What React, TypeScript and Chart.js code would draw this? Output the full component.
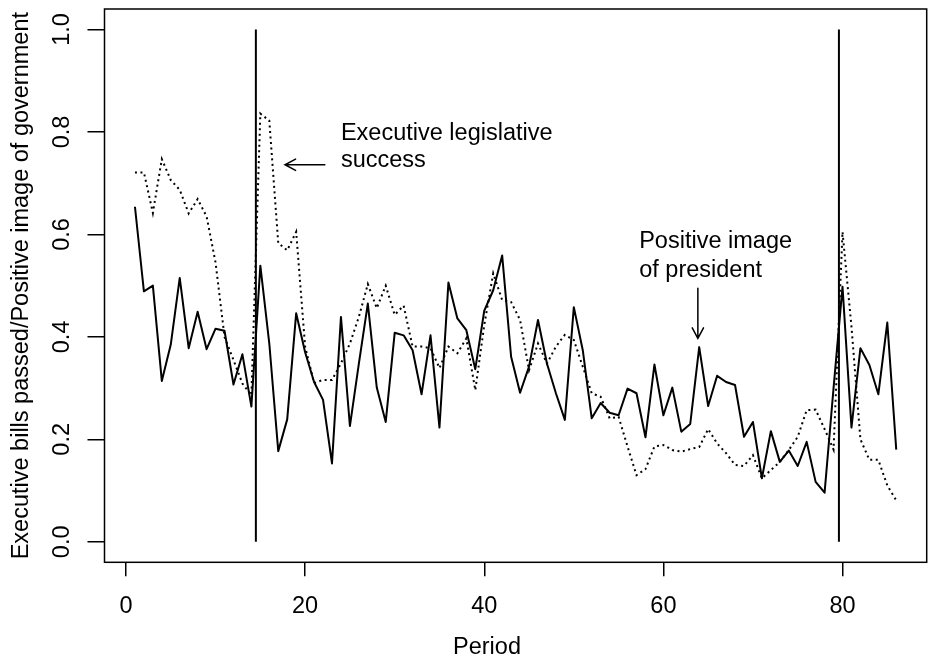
import React, { useEffect, useRef } from "react";
import { Chart, registerables } from "chart.js";

Chart.register(...registerables);

const periods = [
  1, 2, 3, 4, 5, 6, 7, 8, 9, 10, 11, 12, 13, 14, 15, 16, 17, 18, 19, 20,
  21, 22, 23, 24, 25, 26, 27, 28, 29, 30, 31, 32, 33, 34, 35, 36, 37, 38, 39, 40,
  41, 42, 43, 44, 45, 46, 47, 48, 49, 50, 51, 52, 53, 54, 55, 56, 57, 58, 59, 60,
  61, 62, 63, 64, 65, 66, 67, 68, 69, 70, 71, 72, 73, 74, 75, 76, 77, 78, 79, 80,
  81, 82, 83, 84, 85, 86,
];

// Solid line: positive image of president
const presidentImage = [
  0.654, 0.489, 0.5, 0.314, 0.385, 0.515, 0.378, 0.449, 0.376, 0.416,
  0.412, 0.307, 0.366, 0.264, 0.539, 0.387, 0.177, 0.239, 0.446, 0.37,
  0.312, 0.277, 0.153, 0.439, 0.226, 0.348, 0.465, 0.301, 0.234, 0.408,
  0.403, 0.374, 0.288, 0.403, 0.223, 0.506, 0.436, 0.413, 0.337, 0.451,
  0.491, 0.559, 0.361, 0.291, 0.342, 0.433, 0.348, 0.29, 0.238, 0.458,
  0.374, 0.241, 0.271, 0.252, 0.247, 0.299, 0.29, 0.204, 0.346, 0.247,
  0.301, 0.215, 0.23, 0.38, 0.265, 0.324, 0.312, 0.306, 0.205, 0.234,
  0.124, 0.216, 0.156, 0.178, 0.148, 0.195, 0.117, 0.096, 0.3, 0.498,
  0.223, 0.378, 0.345, 0.288, 0.428, 0.18,
];

// Dotted line: executive legislative success
const legislativeSuccess = [
  0.721, 0.721, 0.642, 0.747, 0.706, 0.687, 0.641, 0.669, 0.635, 0.545,
  0.4, 0.355, 0.309, 0.286, 0.836, 0.822, 0.583, 0.569, 0.605, 0.381,
  0.31, 0.316, 0.316, 0.348, 0.387, 0.439, 0.503, 0.456, 0.5, 0.443,
  0.461, 0.381, 0.381, 0.378, 0.339, 0.381, 0.368, 0.397, 0.296, 0.423,
  0.524, 0.472, 0.468, 0.433, 0.335, 0.387, 0.348, 0.381, 0.404, 0.394,
  0.342, 0.29, 0.283, 0.241, 0.244, 0.186, 0.13, 0.142, 0.186, 0.189,
  0.179, 0.176, 0.181, 0.185, 0.22, 0.192, 0.173, 0.15, 0.148, 0.169,
  0.124, 0.14, 0.156, 0.179, 0.205, 0.257, 0.258, 0.22, 0.18, 0.605,
  0.42, 0.2, 0.16, 0.16, 0.11, 0.081,
];

const breakPeriods = [14.5, 79.6];
const xTickValues = [0, 20, 40, 60, 80];
const yTickValues = [0, 0.2, 0.4, 0.6, 0.8, 1.0];

const xTitle = "Period";
const yTitle = "Executive bills passed/Positive image of government";

const noteLines = [
  { text: "Executive legislative", x: 24.0, y: 0.784 },
  { text: "success", x: 24.0, y: 0.7316 },
  { text: "Positive image", x: 57.3, y: 0.5728 },
  { text: "of president", x: 57.3, y: 0.5174 },
];

const noteArrows = [
  { x0: 22.2, y0: 0.736, x1: 17.75, y1: 0.736 },
  { x0: 63.85, y0: 0.495, x1: 63.85, y1: 0.397 },
];

const FONT = "'Liberation Sans', Arial, Helvetica, sans-serif";
const FS = 23.5;

const overlayPlugin = {
  id: "rOverlay",
  afterDraw(chart: any) {
    const { ctx, chartArea } = chart;
    const xs = chart.scales.x;
    const ys = chart.scales.y;
    ctx.save();
    // box
    ctx.strokeStyle = "#000";
    ctx.lineWidth = 1.5;
    ctx.strokeRect(
      chartArea.left,
      chartArea.top,
      chartArea.right - chartArea.left,
      chartArea.bottom - chartArea.top
    );
    ctx.fillStyle = "#000";
    // y tick labels (rotated, parallel to axis)
    ctx.font = `${FS}px ${FONT}`;
    ctx.textAlign = "center";
    ctx.textBaseline = "alphabetic";
    yTickValues.forEach((v) => {
      const py = ys.getPixelForValue(v);
      ctx.save();
      ctx.translate(68.5, py);
      ctx.rotate(-Math.PI / 2);
      ctx.fillText(v.toFixed(1), 0, 0);
      ctx.restore();
    });
    // y title
    ctx.save();
    ctx.translate(28, (chartArea.top + chartArea.bottom) / 2);
    ctx.rotate(-Math.PI / 2);
    ctx.fillText(yTitle, 0, 0);
    ctx.restore();
    // x title
    ctx.fillText(xTitle, 487, 654);
    // notes
    ctx.font = `${FS}px ${FONT}`;
    ctx.textAlign = "left";
    noteLines.forEach((n) => {
      ctx.fillText(n.text, xs.getPixelForValue(n.x), ys.getPixelForValue(n.y));
    });
    // arrows
    ctx.lineWidth = 1.5;
    ctx.lineCap = "round";
    noteArrows.forEach((a) => {
      const x0 = xs.getPixelForValue(a.x0);
      const y0 = ys.getPixelForValue(a.y0);
      const x1 = xs.getPixelForValue(a.x1);
      const y1 = ys.getPixelForValue(a.y1);
      ctx.beginPath();
      ctx.moveTo(x0, y0);
      ctx.lineTo(x1, y1);
      const ang = Math.atan2(y1 - y0, x1 - x0);
      const len = 12;
      const spread = (28 * Math.PI) / 180;
      ctx.moveTo(x1 - len * Math.cos(ang - spread), y1 - len * Math.sin(ang - spread));
      ctx.lineTo(x1, y1);
      ctx.lineTo(x1 - len * Math.cos(ang + spread), y1 - len * Math.sin(ang + spread));
      ctx.stroke();
    });
    ctx.restore();
  },
};

export default function App() {
  const ref = useRef<HTMLCanvasElement | null>(null);
  useEffect(() => {
    document.body.style.margin = "0";
    const canvas = ref.current;
    if (!canvas) return;
    const solid = periods.map((p, i) => ({ x: p, y: presidentImage[i] }));
    const dotted = periods.map((p, i) => ({ x: p, y: legislativeSuccess[i] }));
    const breaks = breakPeriods.map((b) => ({
      data: [
        { x: b, y: 0 },
        { x: b, y: 1 },
      ],
      borderColor: "#000",
      borderWidth: 2,
      pointRadius: 0,
      tension: 0,
    }));
    const chart = new Chart(canvas, {
      type: "line",
      data: {
        datasets: [
          {
            data: solid,
            borderColor: "#000",
            borderWidth: 2,
            pointRadius: 0,
            tension: 0,
            borderJoinStyle: "round",
          } as any,
          {
            data: dotted,
            borderColor: "#000",
            borderWidth: 2,
            borderDash: [2, 3.5],
            pointRadius: 0,
            tension: 0,
          } as any,
          ...(breaks as any[]),
        ],
      },
      options: {
        animation: false,
        responsive: false,
        maintainAspectRatio: false,
        layout: { padding: { top: 9, right: 4.3, left: 0, bottom: 0 } },
        plugins: { legend: { display: false }, tooltip: { enabled: false } },
        scales: {
          x: {
            type: "linear",
            min: -2.4,
            max: 89.4,
            afterBuildTicks: (s: any) => {
              s.ticks = xTickValues.map((v) => ({ value: v }));
            },
            afterFit: (s: any) => {
              s.height = 96.7;
            },
            grid: {
              drawOnChartArea: false,
              drawTicks: true,
              tickLength: 14,
              color: "#000",
              lineWidth: 1.5,
            },
            border: { display: false },
            ticks: {
              color: "#000",
              font: { family: FONT, size: FS },
              padding: 16.5,
              maxRotation: 0,
              autoSkip: false,
              callback: (v: any) => String(v),
            },
          },
          y: {
            type: "linear",
            min: -0.04,
            max: 1.04,
            afterBuildTicks: (s: any) => {
              s.ticks = yTickValues.map((v) => ({ value: v }));
            },
            afterFit: (s: any) => {
              s.width = 104.5;
            },
            grid: {
              drawOnChartArea: false,
              drawTicks: true,
              tickLength: 17,
              color: "#000",
              lineWidth: 1.5,
            },
            border: { display: false },
            ticks: { display: false },
          },
        },
      },
      plugins: [overlayPlugin],
    });
    return () => chart.destroy();
  }, []);
  return (
    <canvas
      ref={ref}
      width={931}
      height={659}
      style={{ display: "block", width: 931, height: 659 }}
    />
  );
}
